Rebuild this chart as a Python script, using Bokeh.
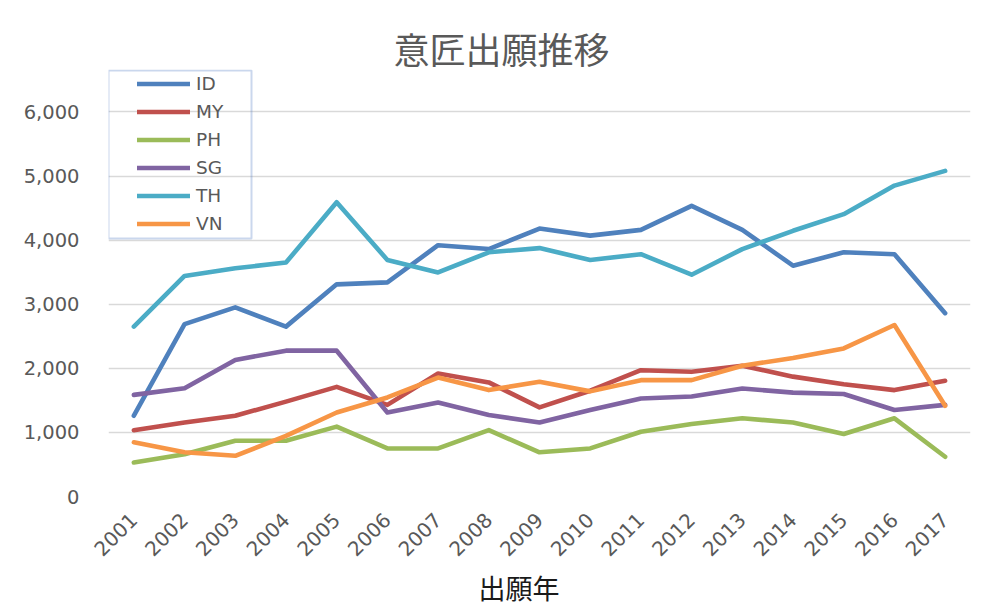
import math
from bokeh.plotting import figure
from bokeh.models import (Range1d, FixedTicker, NumeralTickFormatter, Legend,
                          LegendItem, Title, BoxAnnotation)
from bokeh.embed import file_html
from bokeh.resources import INLINE

# ---- data ----
years = list(range(2001, 2018))
ID = [1260, 2690, 2950, 2650, 3310, 3340, 3920, 3860, 4180, 4070, 4160, 4535, 4160, 3600, 3810, 3780, 2860]
MY = [1035, 1155, 1260, 1480, 1710, 1430, 1920, 1780, 1390, 1650, 1970, 1945, 2040, 1870, 1750, 1660, 1805]
PH = [530, 660, 870, 870, 1090, 750, 750, 1035, 690, 750, 1010, 1130, 1220, 1155, 975, 1220, 620]
SG = [1585, 1690, 2130, 2275, 2275, 1310, 1465, 1270, 1155, 1350, 1530, 1560, 1685, 1620, 1600, 1350, 1430]
TH = [2650, 3440, 3560, 3650, 4590, 3690, 3495, 3810, 3875, 3690, 3780, 3460, 3860, 4145, 4405, 4850, 5080]
VN = [845, 690, 635, 945, 1310, 1545, 1855, 1660, 1790, 1640, 1815, 1815, 2040, 2160, 2310, 2675, 1415]
series_names = ["ID", "MY", "PH", "SG", "TH", "VN"]
series_values = [ID, MY, PH, SG, TH, VN]
series_colors = ["#4F81BD", "#C0504D", "#9BBB59", "#8064A2", "#4BACC6", "#F79646"]
y_ticks = [0, 1000, 2000, 3000, 4000, 5000, 6000]
title_text = "意匠出願推移"
x_title_text = "出願年"

# ---- layout ----
W, H = 990, 609
FL, FR, FT, FB = 108, 20, 69, 113          # frame borders
frame_w = W - FL - FR
frame_h = H - FT - FB
px_per_1000 = 64.1
y_top = frame_h / px_per_1000 * 1000

p = figure(width=W, height=H, title=None,
           x_range=Range1d(years[0] - 0.5, years[-1] + 0.5),
           y_range=Range1d(0, y_top),
           output_backend="svg", toolbar_location=None,
           min_border_left=FL, min_border_right=FR,
           min_border_top=FT, min_border_bottom=FB)
p.outline_line_color = None
p.background_fill_color = "white"
p.border_fill_color = "white"

# grid
p.xgrid.visible = False
p.ygrid.ticker = FixedTicker(ticks=y_ticks)
p.ygrid.grid_line_color = "#d9d9d9"
p.ygrid.grid_line_width = 1.5

# y axis
ya = p.yaxis[0]
ya.ticker = FixedTicker(ticks=y_ticks)
ya.formatter = NumeralTickFormatter(format="0,0")
ya.axis_line_color = None
ya.major_tick_line_color = None
ya.minor_tick_line_color = None
ya.major_tick_out = 0
ya.major_tick_in = 0
ya.minor_tick_out = 0
ya.major_label_standoff = 29
ya.major_label_text_font = "DejaVu Sans"
ya.major_label_text_font_size = "19.5px"
ya.major_label_text_color = "#595959"

# x axis
xa = p.xaxis[0]
xa.ticker = FixedTicker(ticks=years)
xa.axis_line_color = None
xa.major_tick_line_color = None
xa.minor_tick_line_color = None
xa.major_tick_out = 0
xa.major_tick_in = 0
xa.minor_tick_out = 0
xa.major_label_orientation = math.pi / 4
xa.major_label_standoff = 20
xa.major_label_text_font = "DejaVu Sans"
xa.major_label_text_font_size = "20px"
xa.major_label_text_color = "#595959"

# lines
renderers = []
for name, vals, col in zip(series_names, series_values, series_colors):
    r = p.line(years, vals, line_width=4.6, line_color=col,
               line_cap="round", line_join="round")
    renderers.append(r)

# legend
legend = Legend(items=[LegendItem(label=n, renderers=[r]) for n, r in zip(series_names, renderers)],
                location=(29, frame_h - 169 + 4),
                border_line_color=None, background_fill_alpha=0,
                padding=4, spacing=7, margin=0,
                glyph_width=53, glyph_height=21, label_height=21,
                label_standoff=6,
                label_text_font="DejaVu Sans", label_text_font_size="18.5px",
                label_text_color="#595959")
p.add_layout(legend)

# legend frame (blue box, as in the reference)
def px_to_x(px):
    return years[0] - 0.5 + px / (frame_w / (len(years)))
def px_to_y(px_from_top):
    return (frame_h - px_from_top) / px_per_1000 * 1000
box = BoxAnnotation(left=px_to_x(0), right=px_to_x(143), top=px_to_y(1), bottom=px_to_y(169),
                    fill_alpha=0, line_color="#4f79c4", line_width=2)
p.add_layout(box)

# titles
t = Title(text=title_text, align="left", offset=285, standoff=-8,
          text_font="Noto Sans CJK JP", text_font_size="36px",
          text_font_style="normal", text_color="#595959")
p.add_layout(t, "above")
xt = Title(text=x_title_text, align="left", offset=370, standoff=0,
           text_font="Noto Sans CJK JP", text_font_size="27px",
           text_font_style="normal", text_color="#1a1a1a")
p.add_layout(xt, "below")

open("out.html", "w").write(file_html(p, INLINE))
